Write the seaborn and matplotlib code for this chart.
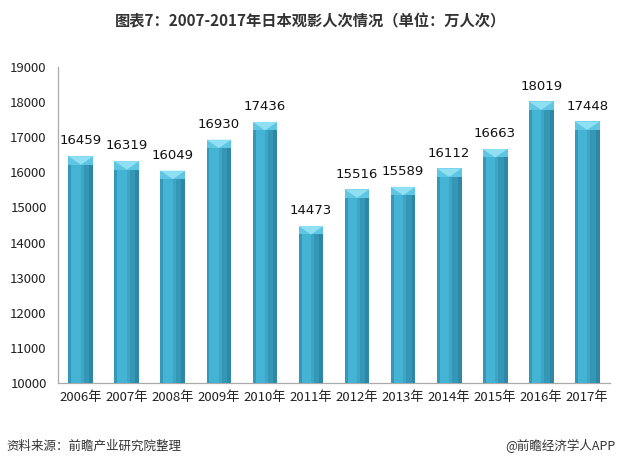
import matplotlib
matplotlib.use("Agg")
import matplotlib.pyplot as plt
import seaborn as sns
import pandas as pd
from matplotlib.patches import Polygon, Rectangle

years = ["2006年", "2007年", "2008年", "2009年", "2010年", "2011年",
         "2012年", "2013年", "2014年", "2015年", "2016年", "2017年"]
values = [16459, 16319, 16049, 16930, 17436, 14473,
          15516, 15589, 16112, 16663, 18019, 17448]
yticks = [10000, 11000, 12000, 13000, 14000, 15000, 16000, 17000, 18000, 19000]

sns.set_theme(style="white")
plt.rcParams['font.family'] = ['Noto Sans CJK SC', 'DejaVu Sans']

df = pd.DataFrame({"year": years, "value": values})

fig = plt.figure(figsize=(6.22, 4.65), dpi=100)
ax = fig.add_axes([0.093, 0.176, 0.888, 0.68])

sns.barplot(data=df, x="year", y="value", color="#3ca6c6", width=0.54,
            saturation=1, ax=ax, bottom=0)
ax.set_ylim(10000, 19000)
ax.set_xlim(-0.5, len(years) - 0.5)
ax.set_yticks(yticks)
ax.set_yticklabels([str(t) for t in yticks], fontsize=9.5, color="#222222")
ax.tick_params(axis="x", labelsize=9.5, colors="#222222", length=0, pad=6)
ax.tick_params(axis="y", length=4, width=0.8, color="#aaaaaa", direction="inout", pad=6)
ax.set_xlabel("")
ax.set_ylabel("")
for s in ["top", "right"]:
    ax.spines[s].set_visible(False)
for s in ["left", "bottom"]:
    ax.spines[s].set_color("#aaaaaa")
    ax.spines[s].set_linewidth(0.9)

cap_h = 240
for p, v in zip(ax.patches, values):
    x0 = p.get_x()
    w = p.get_width()
    top = p.get_y() + p.get_height()
    h = top - 10000
    # shading stripes for a rounded look
    ax.add_patch(Rectangle((x0, 10000), w * 0.12, h, color="#3498b8", lw=0, zorder=3))
    ax.add_patch(Rectangle((x0 + w * 0.12, 10000), w * 0.38, h, color="#45b3d3", lw=0, zorder=3))
    ax.add_patch(Rectangle((x0 + w * 0.62, 10000), w * 0.22, h, color="#3596b5", lw=0, zorder=3))
    ax.add_patch(Rectangle((x0 + w * 0.84, 10000), w * 0.16, h, color="#2d87a6", lw=0, zorder=3))
    # top bevel
    ax.add_patch(Rectangle((x0, top - cap_h), w, cap_h, color="#5ec6e2", lw=0, zorder=4))
    ax.add_patch(Polygon([(x0, top), (x0 + w, top), (x0 + w * 0.5, top - cap_h)],
                         closed=True, color="#8fe0f2", lw=0, zorder=5))
    ax.text(x0 + w / 2, top + 250, str(v), ha="center", va="bottom",
            fontsize=9.5, color="#111111", family=["DejaVu Sans"])

fig.text(0.5, 0.953, "图表7：2007-2017年日本观影人次情况（单位：万人次）",
         ha="center", va="center", fontsize=11, fontweight="bold", color="#333333")
fig.text(0.01, 0.04, "资料来源：前瞻产业研究院整理", ha="left", va="center",
         fontsize=9, style="italic", color="#333333")
fig.text(0.99, 0.04, "@前瞻经济学人APP", ha="right", va="center",
         fontsize=9, color="#333333")

fig.savefig("out.png", dpi=100, facecolor="white")
